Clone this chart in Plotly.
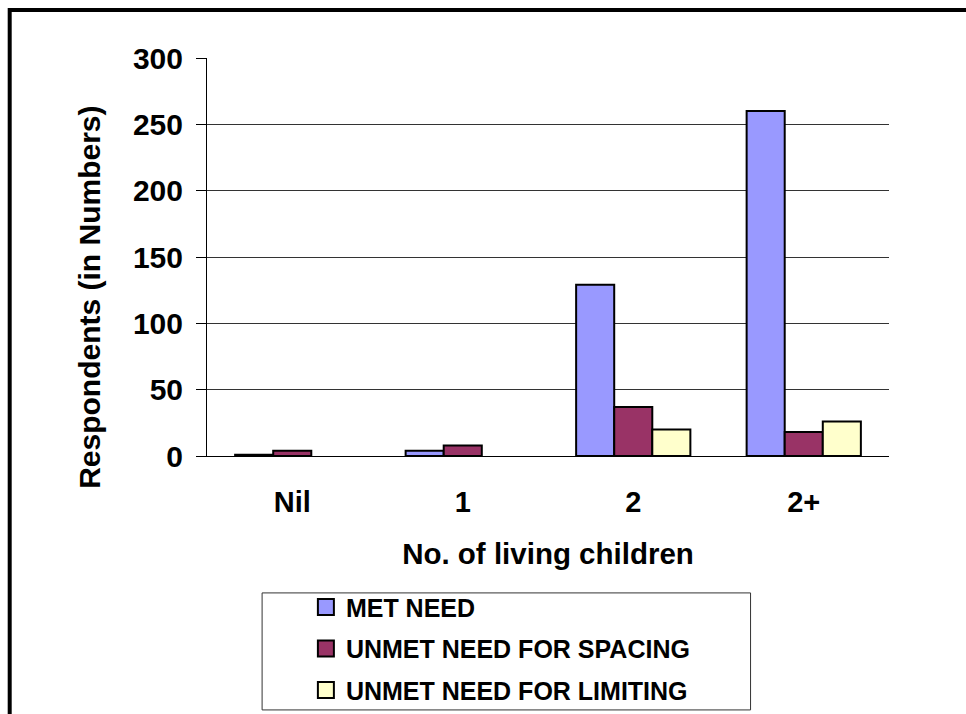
import plotly.graph_objects as go

# Number of living children per respondent group
categories = ["Nil", "1", "2", "2+"]
met_need = [1, 4, 129, 260]
unmet_spacing = [4, 8, 37, 18]
unmet_limiting = [0, 0, 20, 26]

y_ticks = [0, 50, 100, 150, 200, 250, 300]

FONT = "Arial, Liberation Sans, sans-serif"

series = [
    ("MET NEED", met_need, "#9999FF"),
    ("UNMET NEED FOR SPACING", unmet_spacing, "#993366"),
    ("UNMET NEED FOR LIMITING", unmet_limiting, "#FFFFCC"),
]

fig = go.Figure()
for i, (name, vals, color) in enumerate(series):
    # empty bars get no outline
    widths = [2 if v > 0 else 0 for v in vals]
    fig.add_trace(go.Bar(
        name=name,
        x=categories,
        y=vals,
        showlegend=False,
        legendgroup=f"g{i}",
        marker=dict(color=color, line=dict(color="black", width=widths)),
    ))
    # legend swatch: larger outlined square
    fig.add_trace(go.Scatter(
        name=name,
        x=[None], y=[None],
        mode="markers",
        legendgroup=f"g{i}",
        marker=dict(symbol="square", size=16, color=color,
                    line=dict(color="black", width=2)),
    ))

fig.update_layout(
    width=966,
    height=714,
    margin=dict(l=207, r=77, t=58, b=258, autoexpand=False),
    paper_bgcolor="white",
    plot_bgcolor="white",
    barmode="group",
    bargap=0.33,
    bargroupgap=0,
    font=dict(family=FONT, color="black"),
    showlegend=True,
    legend=dict(
        x=0.145, xanchor="left",
        y=-0.3225, yanchor="top",
        font=dict(family=FONT, size=25, color="black", weight="bold"),
        bgcolor="rgba(0,0,0,0)",
        borderwidth=0,
        tracegroupgap=6,
        traceorder="grouped",
        itemsizing="trace",
    ),
    xaxis=dict(
        showline=True, linecolor="black", linewidth=1,
        ticks="",
        tickfont=dict(family=FONT, size=29, color="black", weight="bold"),
        ticklabelstandoff=20,
        title=dict(text="No. of living children", standoff=26,
                   font=dict(family=FONT, size=29.5, color="black", weight="bold")),
    ),
    yaxis=dict(
        range=[0, 300],
        tickvals=y_ticks,
        showline=True, linecolor="black", linewidth=1,
        ticks="outside", ticklen=10, tickcolor="black",
        showgrid=True, gridcolor="#333333", gridwidth=1,
        zeroline=False,
        tickfont=dict(family=FONT, size=30, color="black", weight="bold"),
        ticklabelstandoff=7,
    ),
    annotations=[
        dict(text="Respondents (in Numbers)", textangle=-90,
             xref="paper", yref="paper", x=-0.1718, y=0.3995,
             xanchor="center", yanchor="middle", showarrow=False,
             font=dict(family=FONT, size=30, color="black", weight="bold")),
    ],
    shapes=[
        # legend box
        dict(type="rect", xref="paper", yref="paper",
             x0=0.0808, x1=0.797, y0=-0.638, y1=-0.344,
             line=dict(color="#333333", width=1), fillcolor="rgba(0,0,0,0)",
             layer="below"),
        # outer frame
        dict(type="rect", xref="paper", yref="paper",
             x0=-0.2893, x1=1.25, y0=-0.75, y1=1.1206,
             line=dict(color="black", width=4), fillcolor="rgba(0,0,0,0)"),
    ],
)

fig.write_html("out.html")
